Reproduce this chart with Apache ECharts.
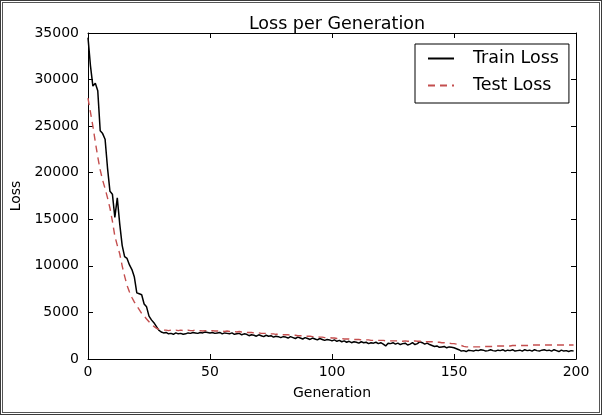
<!DOCTYPE html>
<html>
<head>
<meta charset="utf-8">
<script src="https://cdn.jsdelivr.net/npm/echarts@6/dist/echarts.min.js"></script>
<style>
html,body{margin:0;padding:0;background:#fff;}
#wrap{position:relative;width:602px;height:415px;overflow:hidden;}
#chart{position:absolute;left:0;top:0;width:602px;height:415px;}
.b1{position:absolute;left:0;top:0;width:600px;height:413px;border:1px solid #3a3a3a;pointer-events:none;}
.b2{position:absolute;left:2px;top:2px;width:596px;height:409px;border:1px solid #555;pointer-events:none;}
</style>
</head>
<body>
<div id="wrap"><div id="chart"></div><div class="b1"></div><div class="b2"></div></div>
<script>
var title = 'Loss per Generation';
var xName = 'Generation';
var yName = 'Loss';
var seriesNames = ['Train Loss', 'Test Loss'];

var trainLoss = [
34500, 31500, 29300, 29600, 28800, 24500, 24200, 23600, 20500, 18000,
17700, 15200, 17300, 14500, 12200, 11000, 10800, 10100, 9600, 8800,
7100, 7000, 6900, 5900, 5600, 4600, 4200, 3900, 3500, 3100,
2900, 2800, 2850, 2700, 2750, 2650, 2800, 2700, 2750, 2650,
2700, 2800, 2750, 2850, 2800, 2750, 2850, 2800, 2900, 2850,
2800, 2850, 2750, 2800, 2850, 2700, 2800, 2750, 2700, 2800,
2650, 2700, 2750, 2600, 2700, 2650, 2500, 2600, 2550, 2450,
2600, 2500, 2400, 2550, 2450, 2500, 2350, 2450, 2400, 2300,
2400, 2350, 2250, 2400, 2300, 2200, 2350, 2250, 2150, 2300,
2200, 2100, 2250, 2150, 2050, 2200, 2100, 2000, 2100, 2050,
1950, 2050, 1900, 2000, 1850, 1950, 1800, 1900, 1750, 1850,
1800, 1700, 1850, 1750, 1800, 1650, 1750, 1700, 1800, 1650,
1750, 1600, 1400, 1700, 1650, 1750, 1600, 1700, 1550, 1650,
1700, 1500, 1600, 1750, 1550, 1650, 1850, 1750, 1600, 1700,
1550, 1450, 1350, 1400, 1250, 1300, 1350, 1200, 1300, 1250,
1200, 1100, 1000, 850, 900, 800, 950, 900, 850, 950,
900, 1000, 950, 850, 900, 1000, 900, 850, 950, 900,
1000, 850, 950, 900, 1000, 850, 900, 950, 850, 1000,
900, 950, 850, 1000, 900, 850, 950, 1000, 900, 950,
850, 1000, 900, 800, 950, 850, 900, 800, 900, 850
];

var testLoss = [
28000, 26500, 25000, 23300, 21700, 20300, 19200, 18300, 17300, 16200,
14800, 13200, 12200, 11300, 10000, 8900, 7900, 7200, 6600, 6100,
5700, 5300, 4900, 4600, 4300, 4000, 3700, 3500, 3300, 3200,
3150, 3100, 3100, 3050, 3100, 3050, 3100, 3050, 3100, 3050,
3050, 3100, 3050, 3050, 3100, 3050, 3050, 3000, 3050, 3050,
3000, 3050, 3000, 3000, 3050, 3000, 2950, 3000, 2950, 2950,
2950, 2900, 2950, 2900, 2900, 2850, 2850, 2850, 2800, 2800,
2800, 2750, 2750, 2750, 2700, 2700, 2700, 2650, 2650, 2650,
2600, 2600, 2600, 2550, 2550, 2550, 2500, 2500, 2500, 2450,
2450, 2450, 2400, 2400, 2400, 2350, 2350, 2300, 2300, 2300,
2250, 2250, 2200, 2200, 2200, 2150, 2150, 2150, 2100, 2100,
2100, 2100, 2050, 2050, 2050, 2050, 2000, 2000, 2000, 2000,
2000, 2000, 1950, 1950, 1950, 1950, 1950, 1950, 1900, 1900,
1950, 1900, 1900, 1900, 1950, 1900, 1900, 1900, 1850, 1850,
1850, 1850, 1800, 1800, 1800, 1750, 1750, 1700, 1700, 1650,
1650, 1600, 1550, 1450, 1350, 1300, 1300, 1300, 1300, 1300,
1300, 1300, 1350, 1350, 1350, 1350, 1350, 1400, 1400, 1400,
1400, 1400, 1400, 1400, 1450, 1450, 1450, 1450, 1450, 1450,
1450, 1450, 1500, 1500, 1500, 1500, 1500, 1500, 1500, 1500,
1500, 1500, 1500, 1500, 1500, 1500, 1500, 1500, 1500, 1500
];

var xTicks = [0, 50, 100, 150, 200];
var yTicks = [0, 5000, 10000, 15000, 20000, 25000, 30000, 35000];

function pairs(arr) {
  var out = [];
  for (var i = 0; i < arr.length; i++) out.push([i, arr[i]]);
  return out;
}

var FONT = 'DejaVu Sans';
var chart = echarts.init(document.getElementById('chart'), null, {renderer: 'canvas'});

function plain(v) { return String(v); }

function xAxisCfg(pos, showLabels) {
  return {
    type: 'value', position: pos, min: xTicks[0], max: xTicks[xTicks.length - 1],
    interval: xTicks[1] - xTicks[0],
    name: showLabels ? xName : '', nameLocation: 'middle', nameGap: 27,
    nameTextStyle: {fontFamily: FONT, fontSize: 14, color: '#000'},
    axisLine: {show: true, onZero: false, lineStyle: {color: '#000', width: 1}},
    axisTick: {show: true, inside: true, length: 5, lineStyle: {color: '#000'}},
    axisLabel: {show: showLabels, fontFamily: FONT, fontSize: 14, color: '#000', margin: 6, formatter: plain},
    splitLine: {show: false}
  };
}
function yAxisCfg(pos, showLabels) {
  return {
    type: 'value', position: pos, min: yTicks[0], max: yTicks[yTicks.length - 1],
    interval: yTicks[1] - yTicks[0],
    name: showLabels ? yName : '', nameLocation: 'middle', nameGap: 55, nameRotate: 90,
    nameTextStyle: {fontFamily: FONT, fontSize: 14, color: '#000'},
    axisLine: {show: true, onZero: false, lineStyle: {color: '#000', width: 1}},
    axisTick: {show: true, inside: true, length: 5, lineStyle: {color: '#000'}},
    axisLabel: {show: showLabels, fontFamily: FONT, fontSize: 14, color: '#000', margin: 9, formatter: plain},
    splitLine: {show: false}
  };
}

chart.setOption({
  animation: false,
  backgroundColor: '#fff',
  title: {
    text: title, left: 332, top: 10, textAlign: 'center',
    textStyle: {fontFamily: FONT, fontSize: 17.5, fontWeight: 'normal', color: '#000'}
  },
  grid: {left: 88, right: 26, top: 33, bottom: 56, containLabel: false},
  xAxis: [xAxisCfg('bottom', true), xAxisCfg('top', false)],
  yAxis: [yAxisCfg('left', true), yAxisCfg('right', false)],
  legend: {
    orient: 'vertical', left: 415, top: 44,
    padding: [4, 10, 7, 12], itemGap: 6, itemWidth: 26, itemHeight: 14,
    backgroundColor: '#fff', borderColor: '#000', borderWidth: 1,
    itemStyle: {opacity: 0},
    textStyle: {fontFamily: FONT, fontSize: 17.5, color: '#000', lineHeight: 21, padding: [0, 0, 0, 14]},
    data: seriesNames
  },
  series: [
    {
      name: seriesNames[0], type: 'line', xAxisIndex: 0, yAxisIndex: 0,
      data: pairs(trainLoss), showSymbol: false, symbol: 'none',
      lineStyle: {color: '#000', width: 1.5}, itemStyle: {color: '#000'}
    },
    {
      name: seriesNames[1], type: 'line', xAxisIndex: 0, yAxisIndex: 0,
      data: pairs(testLoss), showSymbol: false, symbol: 'none',
      lineStyle: {color: '#c44e4e', width: 1.4, type: [7, 5]}, itemStyle: {color: '#c44e4e'}
    }
  ]
});
</script>
</body>
</html>
